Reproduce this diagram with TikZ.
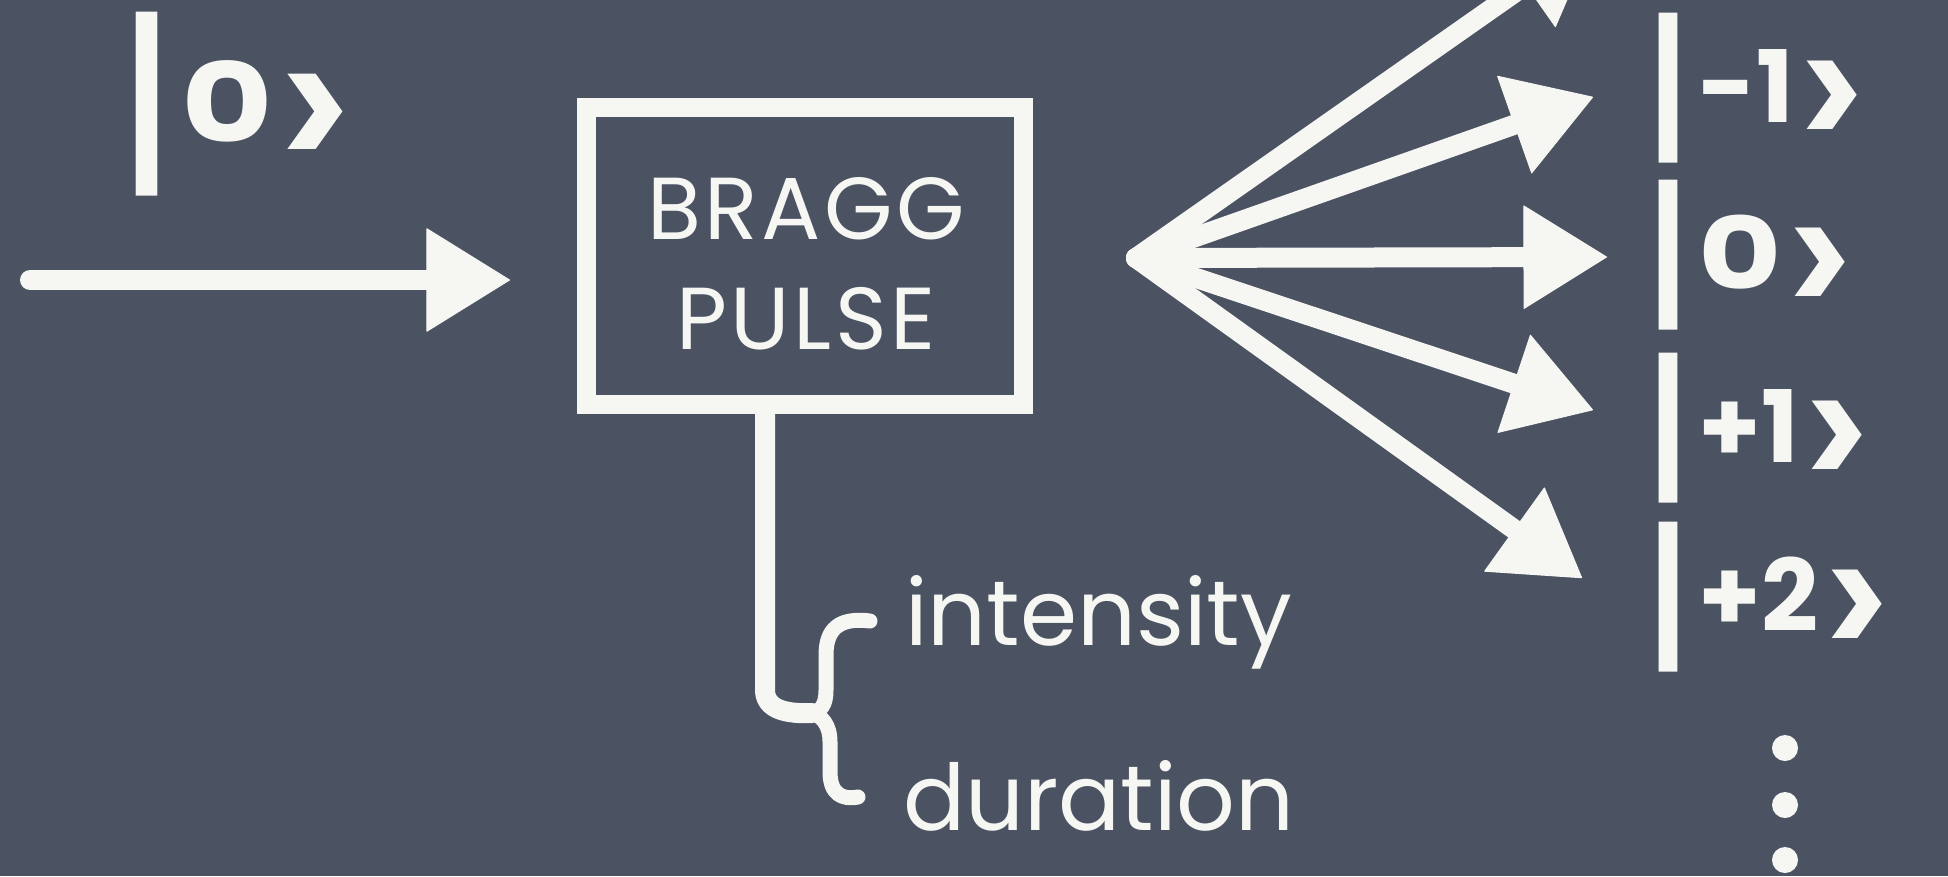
\documentclass[tikz,border=0pt]{standalone}
\usepackage{fontspec}
\setmainfont{Poppins}
\usetikzlibrary{arrows.meta,calc}
\definecolor{board}{RGB}{75,82,98}
\definecolor{chalk}{RGB}{246,246,243}
\newcommand\kbar[2]{{\mdseries\raisebox{\dimexpr0.34em-(\height-\depth)/2\relax}{\resizebox*{#1}{#2}{|}}}}
\newcommand\kgt{\hspace{0.06em}\raisebox{-0.27em}{\scalebox{1.2}[1.55]{>}}}
\newcommand\kzero{\scalebox{1.28}[1]{0}}
\begin{document}
\begin{tikzpicture}[x=1pt,y=-1pt,
  chalkline/.style={draw=chalk,line width=20pt,line cap=round,line join=round},
  chalkarrow/.style={chalkline,-{Triangle[length=84pt,width=104pt,line width=1pt,round]}},
  thinchalk/.style={draw=chalk,line width=15pt,line cap=round,line join=round},
  kettext/.style={text=chalk,inner sep=0pt,anchor=base west,font=\fontsize{100pt}{100pt}\selectfont\bfseries},
  label/.style={text=chalk,inner sep=0pt,anchor=base west,font=\fontsize{92pt}{92pt}\selectfont},
  boxstyle/.style={draw=chalk,line width=19pt,minimum width=437pt,minimum height=297pt,inner sep=0pt},
  boxtext/.style={text=chalk,align=center,font=\fontsize{88pt}{110pt}\selectfont\addfontfeatures{LetterSpace=4}},
  dotstyle/.style={circle,fill=chalk,minimum size=26pt,inner sep=0pt}]
\useasboundingbox (0,0) rectangle (1948,876);
\fill[board] (0,0) rectangle (1948,876);
\clip (0,0) rectangle (1948,876);

% input ket and arrow
\node[kettext,font=\fontsize{110pt}{110pt}\selectfont\bfseries] (ketin) at (112,142) {\kbar{69pt}{184pt}\kzero\kgt};
\coordinate (src) at (30,280);
\coordinate (inTip) at (510,280);
\draw[chalkarrow] (src) -- (inTip);

% Bragg pulse box
\node[boxstyle] (bragg) at (804.5,255.5) {};
\node[boxtext] (braggtxt) at (806,264) {BRAGG\\PULSE};

% fan of diffraction orders
\coordinate (fan) at (1136,258);
\coordinate (tA) at (1594,-63);
\coordinate (tB) at (1593,97);
\coordinate (tC) at (1607,257);
\coordinate (tD) at (1593,410);
\coordinate (tE) at (1582,578);
\foreach \t in {tA,tB,tC,tD,tE} \draw[chalkarrow] (fan) -- (\t);

% output kets
\node[kettext] (km1) at (1638,122) {\kbar{60pt}{150pt}-1\kgt};
\node[kettext] (k0)  at (1638,289) {\kbar{60pt}{150pt}\kzero\kgt};
\node[kettext] (kp1) at (1638,462) {\kbar{60pt}{150pt}+1\kgt};
\node[kettext] (kp2) at (1638,631) {\kbar{60pt}{150pt}+2\kgt};
\node[dotstyle] (d1) at (1785,748) {};
\node[dotstyle] (d2) at (1785,805) {};
\node[dotstyle] (d3) at (1785,860) {};

% stem and brace
\coordinate (stem) at ($(bragg.south)+(-39.5,0)$);
\coordinate (cusp) at (812,713);
\draw[chalkline] (stem) -- (765,690) .. controls (765,711) and (790,714) .. (cusp);
\draw[thinchalk] (870,621) .. controls (838,617) and (826,630) .. (826,655) -- (826,690)
  .. controls (826,705) and (821,711) .. (cusp)
  .. controls (822,716) and (830,725) .. (830,742) -- (830,772)
  .. controls (830,794) and (842,800) .. (858,797);
\node[label] (inten) at (905,645) {intensity};
\node[label] (dur) at (903,830) {duration};
\end{tikzpicture}
\end{document}
